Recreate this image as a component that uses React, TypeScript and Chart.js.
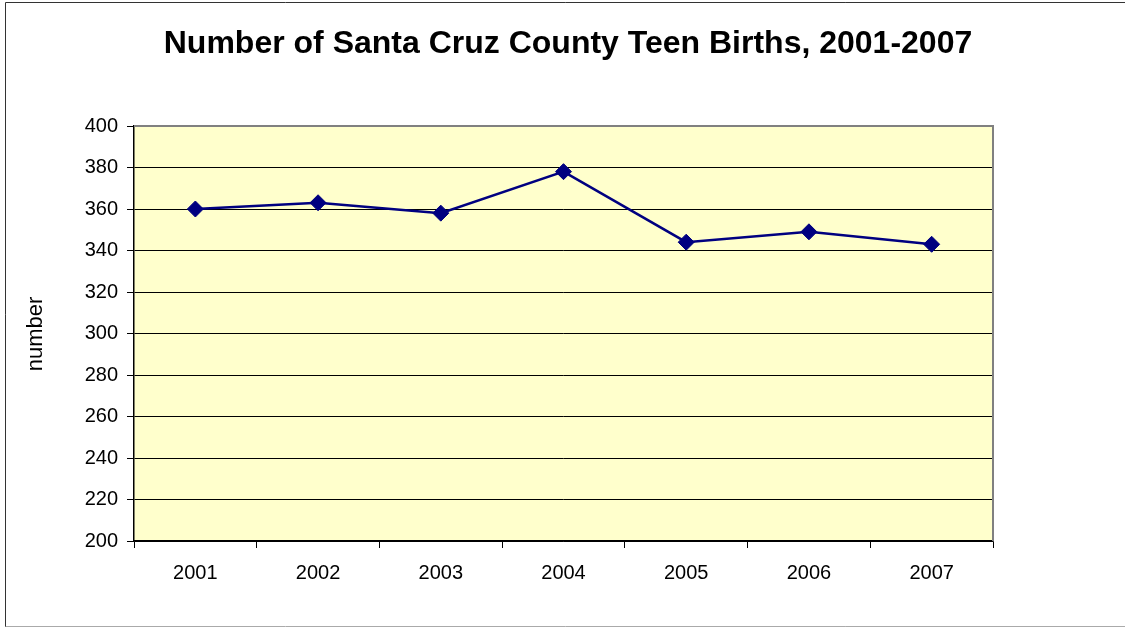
import React, { useEffect, useRef } from "react";
import { Chart, registerables } from "chart.js";

Chart.register(...registerables);

const years = ["2001", "2002", "2003", "2004", "2005", "2006", "2007"];
const births = [360, 363, 358, 378, 344, 349, 343];
const titleText = "Number of Santa Cruz County Teen Births, 2001-2007";
const yTitle = "number";

const FONT = "'Liberation Sans', Arial, sans-serif";

const decorPlugin = {
  id: "decor",
  beforeDraw(chart: any) {
    const { ctx, chartArea } = chart;
    ctx.save();
    ctx.fillStyle = "#ffffff";
    ctx.fillRect(0, 0, chart.width, chart.height);
    ctx.fillStyle = "#FFFFCC";
    ctx.fillRect(chartArea.left, chartArea.top, chartArea.right - chartArea.left, chartArea.bottom - chartArea.top);
    ctx.restore();
  },
  afterDraw(chart: any) {
    const { ctx, chartArea } = chart;
    ctx.save();
    // plot top/right gray border
    ctx.strokeStyle = "#808080";
    ctx.lineWidth = 2;
    ctx.beginPath();
    ctx.moveTo(chartArea.left, chartArea.top);
    ctx.lineTo(chartArea.right, chartArea.top);
    ctx.lineTo(chartArea.right, chartArea.bottom);
    ctx.stroke();
    // outer frame
    ctx.lineWidth = 1;
    ctx.strokeStyle = "#333333";
    ctx.beginPath();
    ctx.moveTo(5.5, 627);
    ctx.lineTo(5.5, 2.5);
    ctx.lineTo(1125, 2.5);
    ctx.stroke();
    ctx.strokeStyle = "#aaaaaa";
    ctx.beginPath();
    ctx.moveTo(5.5, 626.5);
    ctx.lineTo(1125, 626.5);
    ctx.stroke();
    // title
    ctx.fillStyle = "#000000";
    ctx.font = `bold 32px ${FONT}`;
    ctx.textAlign = "center";
    ctx.textBaseline = "middle";
    ctx.fillText(titleText, 568, 44);
    // y axis title
    ctx.font = `22px ${FONT}`;
    ctx.translate(36, 334);
    ctx.rotate(-Math.PI / 2);
    ctx.fillText(yTitle, 0, 0);
    ctx.restore();
  },
};

export default function App() {
  const ref = useRef<HTMLCanvasElement | null>(null);
  useEffect(() => {
    if (!ref.current) return;
    const chart = new Chart(ref.current, {
      type: "line",
      data: {
        labels: years,
        datasets: [
          {
            data: births,
            borderColor: "#000080",
            backgroundColor: "#000080",
            borderWidth: 2.5,
            pointStyle: "rectRot",
            pointRadius: 8,
            pointBorderWidth: 1,
            pointBackgroundColor: "#000080",
            pointBorderColor: "#000080",
            tension: 0,
          },
        ],
      },
      options: {
        responsive: false,
        animation: false,
        layout: { padding: { left: 0, top: 126, right: 132, bottom: 0 } },
        plugins: { legend: { display: false }, title: { display: false }, tooltip: { enabled: false } },
        scales: {
          x: {
            offset: true,
            afterFit: (s: any) => { s.height = 87; },
            grid: { display: true, drawOnChartArea: false, drawTicks: true, tickLength: 7, offset: true, color: "#000000" },
            border: { display: true, color: "#000000", width: 1.5 },
            ticks: { color: "#000000", font: { family: FONT, size: 20 }, padding: 13 },
          },
          y: {
            min: 200,
            max: 400,
            afterFit: (s: any) => { s.width = 134; },
            grid: {
              color: (c: any) => (c.tick && c.tick.value === 400 ? "rgba(0,0,0,0)" : "#000000"),
              tickColor: "#000000",
              tickLength: 7,
              lineWidth: 1,
            },
            border: { display: true, color: "#000000", width: 1.5 },
            ticks: { stepSize: 20, color: "#000000", font: { family: FONT, size: 20 }, padding: 9 },
          },
        },
      },
      plugins: [decorPlugin],
    });
    return () => chart.destroy();
  }, []);
  return (
    <canvas
      ref={ref}
      width={1125}
      height={628}
      style={{ position: "absolute", left: 0, top: 0, width: 1125, height: 628 }}
    />
  );
}
